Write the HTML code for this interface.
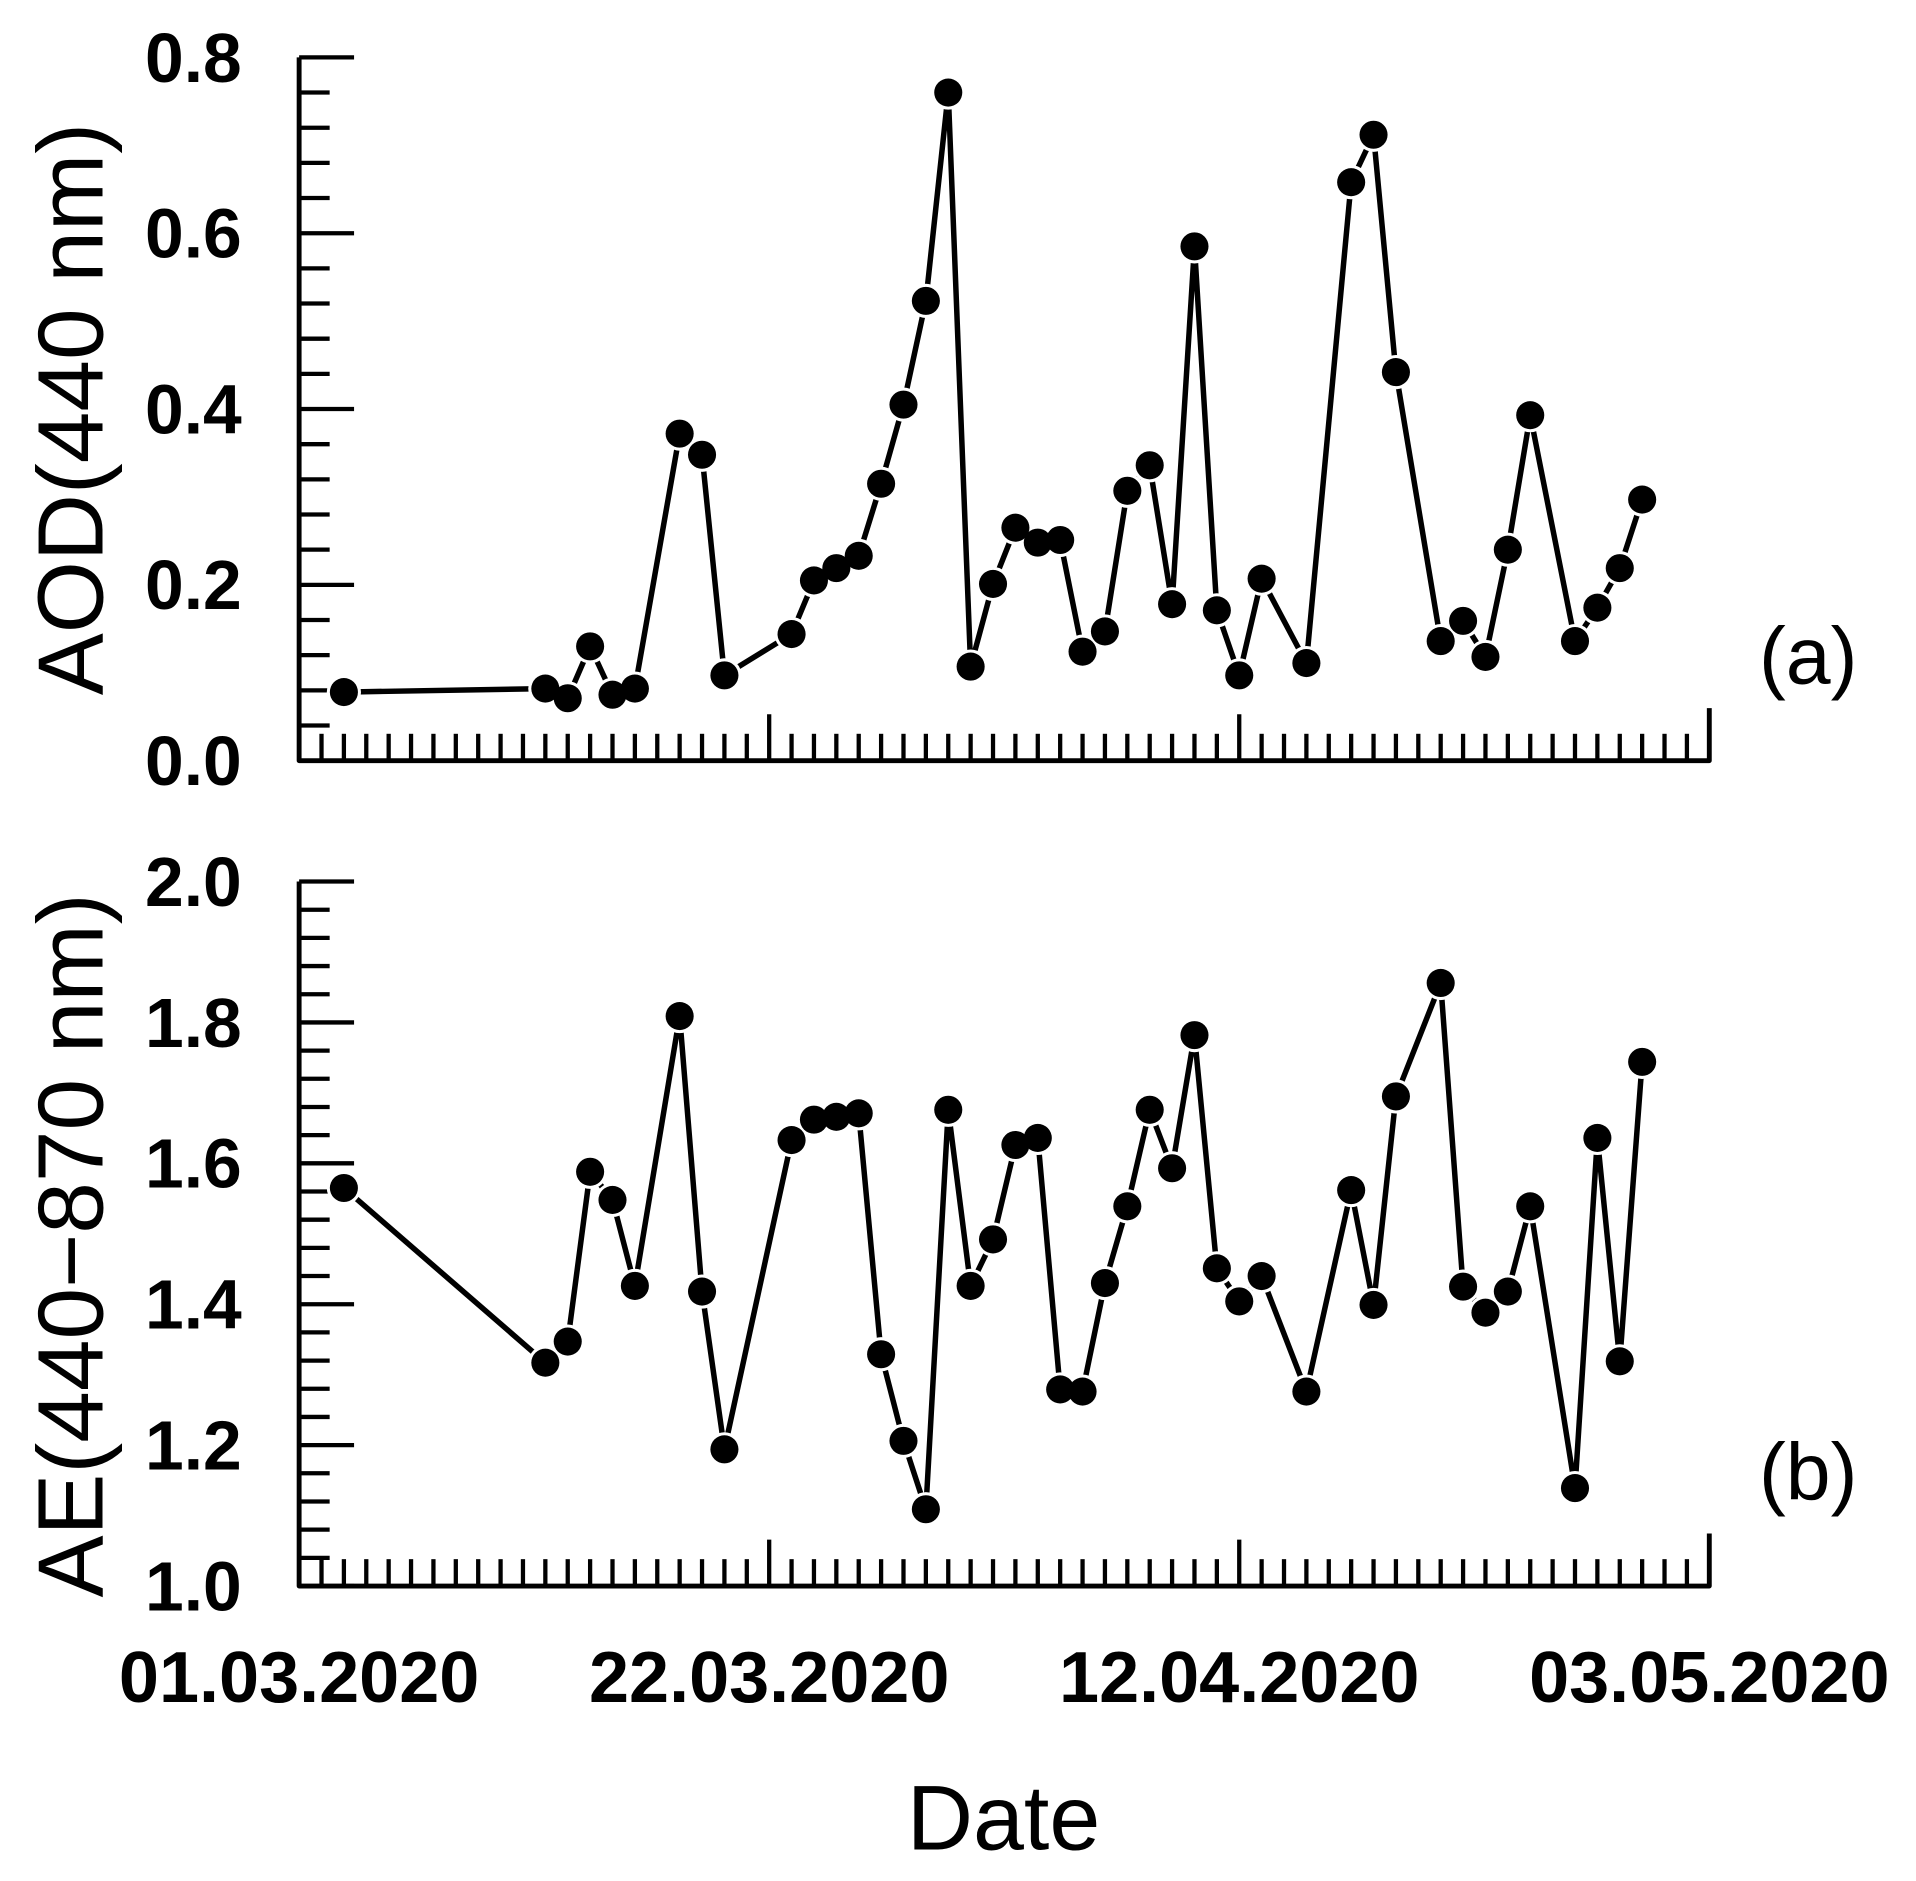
<!DOCTYPE html>
<html><head><meta charset="utf-8"><style>
html,body{margin:0;padding:0;background:#fff;}
svg{display:block;}
text{font-family:"Liberation Sans",Arial,sans-serif;fill:#000;}
.tk{font-weight:bold;font-size:57px;}
.dt{font-weight:bold;font-size:59px;}
</style></head><body>
<svg id="chart" width="1916" height="1881" viewBox="0 0 1569.3 1540.6" preserveAspectRatio="none" xmlns="http://www.w3.org/2000/svg">
<g id="g"></g>
</svg>
<script>
const days = [2,11,12,13,14,15,17,18,19,22,23,24,25,26,27,28,29,30,31,32,33,34,35,36,37,38,39,40,41,42,43,45,47,48,49,51,52,53,54,55,57,58,59,60];
const aodValues = [0.078,0.082,0.071,0.13,0.075,0.082,0.372,0.348,0.097,0.144,0.205,0.219,0.233,0.315,0.405,0.523,0.76,0.107,0.201,0.265,0.248,0.251,0.124,0.147,0.307,0.336,0.178,0.585,0.171,0.097,0.207,0.111,0.658,0.712,0.442,0.136,0.159,0.118,0.24,0.393,0.136,0.174,0.219,0.297];
const aeValues = [1.565,1.317,1.347,1.588,1.548,1.426,1.809,1.418,1.194,1.633,1.662,1.666,1.671,1.329,1.206,1.109,1.676,1.426,1.492,1.626,1.636,1.279,1.276,1.430,1.539,1.676,1.593,1.782,1.451,1.404,1.440,1.276,1.562,1.399,1.695,1.856,1.425,1.388,1.418,1.539,1.139,1.636,1.319,1.744];
const aodTicks = ["0.0","0.2","0.4","0.6","0.8"];
const aeTicks = ["1.0","1.2","1.4","1.6","1.8","2.0"];
const dateLabels = ["01.03.2020","22.03.2020","12.04.2020","03.05.2020"];

const NS="http://www.w3.org/2000/svg";
const G=document.getElementById('g');
function mk(tag,attrs,parent){const e=document.createElementNS(NS,tag);for(const k in attrs)e.setAttribute(k,attrs[k]);(parent||G).appendChild(e);return e;}
const X0=245, X1=1400, NDAYS=63;
function xs(d){return X0+(X1-X0)*d/NDAYS;}

function panel(name, yTop, yBot, vmin, vmax, ticks, values, label, title, titleY, tag){
  const ys=v=>yBot-(v-vmin)/(vmax-vmin)*(yBot-yTop);
  const grp=mk('g',{});
  
  
  const ax=mk('path',{d:`M${X0},${yTop} L${X0},${yBot} L${X1},${yBot} L${X1},${yBot-43}`,stroke:'#000','stroke-width':4,fill:'none','stroke-linejoin':'round'},grp);
  
  
  for(let d=1; d<NDAYS; d++){
    const major = d%21===0;
    const t=mk('line',{x1:xs(d),x2:xs(d),y1:yBot,y2:yBot-(major?38:22),stroke:'#000','stroke-width':3.5},grp);
    
    
  }
  const step=(vmax-vmin)/(ticks.length-1);
  const minor=step/5;
  const n=Math.round((vmax-vmin)/minor);
  for(let i=0;i<=n;i++){
    const v=vmin+i*minor; const major=i%5===0;
    const t=mk('line',{x1:X0,x2:X0+(major?45:25),y1:ys(v),y2:ys(v),stroke:'#000','stroke-width':3.5},grp);
    
    
  }
  ticks.forEach((lab,i)=>{
    const t=mk('text',{x:198,y:ys(vmin+i*step)+20,'text-anchor':'end',class:'tk'},grp);
    t.textContent=lab;
    
    
  });
  const pts=values.map((v,i)=>[xs(days[i]),ys(v)]);
  const ln=mk('polyline',{points:pts.map(p=>p.join(',')).join(' '),fill:'none',stroke:'#000','stroke-width':4.5,'stroke-linejoin':'round'},grp);
  
  
  pts.forEach(p=>{
    const w=mk('circle',{cx:p[0],cy:p[1],r:14,fill:'#fff'},grp);
    
    
  });
  pts.forEach(p=>{
    const c=mk('circle',{cx:p[0],cy:p[1],r:11.5,fill:'#000'},grp);
    
    
  });
  const tt=mk('text',{x:0,y:0,'font-size':'76px',transform:`translate(84,${titleY}) rotate(-90)`,'text-anchor':'middle'},grp);
  tt.textContent=title;
  
  
  const pl=mk('text',{x:1481,y:tag,'font-size':'66px','text-anchor':'middle'},grp);
  pl.textContent=label;
  
  
}
panel('aod',47,623,0,0.8,aodTicks,aodValues,'(a)','AOD(440 nm)',335,560);
panel('ae',722,1299,1.0,2.0,aeTicks,aeValues,'(b)','AE(440\u2212870 nm)',1020,1228);

dateLabels.forEach((lab,i)=>{
  const t=mk('text',{x:xs(i*21),y:1394,'text-anchor':'middle',class:'dt'});
  t.textContent=lab;
  
  
});
const xt=mk('text',{x:822,y:1515,'text-anchor':'middle','font-size':'75px'});
xt.textContent='Date';


</script>
</body></html>
